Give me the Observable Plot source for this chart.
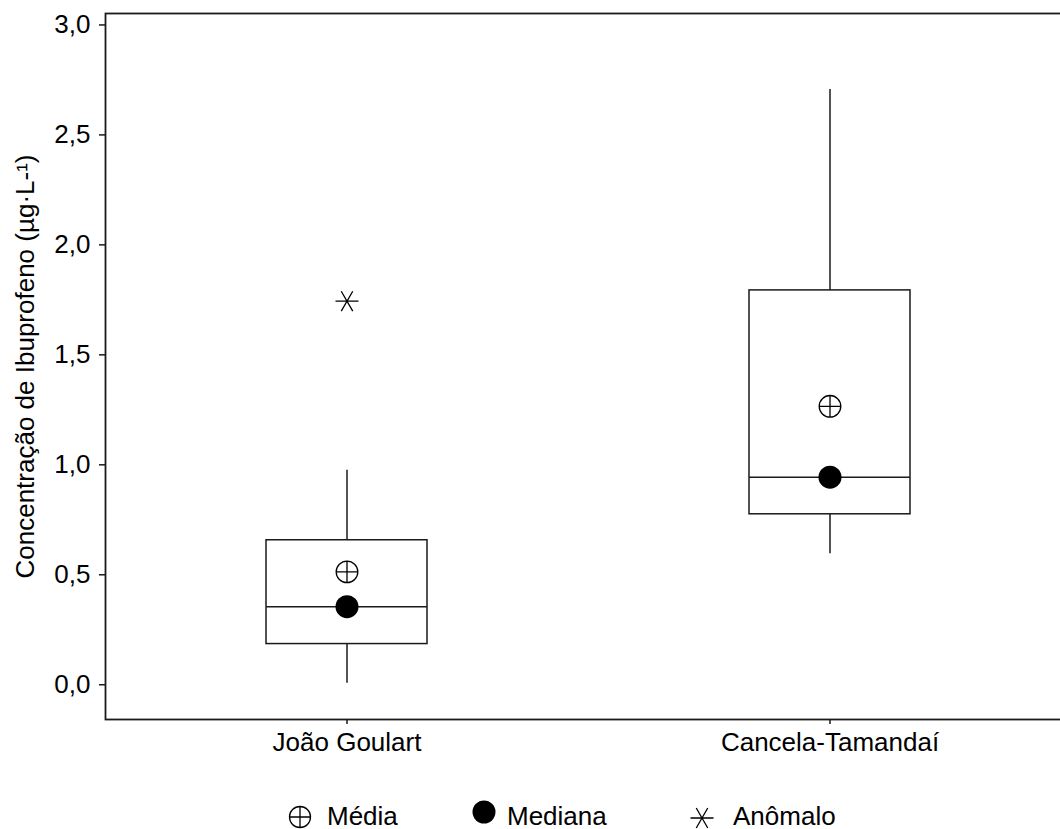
<!DOCTYPE html>
<html lang="pt">
<head>
<meta charset="utf-8">
<script src="https://cdn.jsdelivr.net/npm/d3@7"></script>
<script src="https://cdn.jsdelivr.net/npm/@observablehq/plot@0.6"></script>
<style>
  body { margin: 0; background: #fff; font-family: "Liberation Sans", Arial, sans-serif; overflow: hidden; }
  #legend { position: relative; width: 1060px; height: 39px; }
  #legend .item { position: absolute; top: 13px; display: flex; align-items: center; font-size: 26px; line-height: 26px; color: #000; }
  #legend svg { display: block; }
</style>
</head>
<body>
<div id="chart"></div>
<div id="legend"></div>
<script>
// Sampling sites
const sites = ["João Goulart", "Cancela-Tamandaí"];

// Box-plot statistics per site (µg·L-¹)
const whiskerLow  = [0.007, 0.596];
const q1          = [0.185, 0.775];
const median      = [0.355, 0.944];
const q3          = [0.657, 1.793];
const whiskerHigh = [0.975, 2.707];
const mean        = [0.513, 1.266];

// Outliers
const outlierSites  = ["João Goulart"];
const outlierValues = [1.744];

// Axis ticks and legend labels
const yTicks = [0, 0.5, 1, 1.5, 2, 2.5, 3];
const legendLabels = ["Média", "Mediana", "Anômalo"];

const rows = sites.map((site, i) => ({
  site,
  whiskerLow: whiskerLow[i],
  q1: q1[i],
  median: median[i],
  q3: q3[i],
  whiskerHigh: whiskerHigh[i],
  mean: mean[i]
}));
const outliers = outlierSites.map((site, i) => ({site, value: outlierValues[i]}));

// Circle crossed by a plus sign (mean marker)
const circlePlus = {
  draw(context, size) {
    const r = Math.sqrt(size / Math.PI);
    context.moveTo(r, 0);
    context.arc(0, 0, r, 0, 2 * Math.PI);
    context.moveTo(-r, 0); context.lineTo(r, 0);
    context.moveTo(0, -r); context.lineTo(0, r);
  }
};

// Six-armed asterisk with a horizontal bar (outlier marker)
const asterisk6 = {
  draw(context, size) {
    const r = Math.sqrt(size / Math.PI);
    const c = r * 0.5, s = r * Math.sqrt(3) / 2;
    context.moveTo(-r, 0); context.lineTo(r, 0);
    context.moveTo(-c, -s); context.lineTo(c, s);
    context.moveTo(-c, s); context.lineTo(c, -s);
  }
};

const commaFormat = d => d.toFixed(1).replace(".", ",");
const ink = "#1a1a1a";

const chart = Plot.plot({
  width: 1060,
  height: 790,
  marginLeft: 105,
  marginRight: -12,
  marginTop: 13,
  marginBottom: 71,
  style: {
    fontFamily: '"Liberation Sans", Arial, sans-serif',
    fontSize: "26px",
    color: "#000",
    background: "#fff"
  },
  x: {type: "band", domain: sites, paddingInner: 2 / 3, paddingOuter: 1 / 3},
  y: {domain: [-0.158, 3.052]},
  marks: [
    Plot.frame({stroke: ink, strokeWidth: 1.8}),
    Plot.axisY({
      ticks: yTicks,
      tickFormat: commaFormat,
      tickSize: 6,
      tickPadding: 9,
      strokeWidth: 1.5,
      stroke: ink,
      label: "Concentração de Ibuprofeno (µg·L-¹)",
      labelAnchor: "center",
      labelOffset: 90,
      labelArrow: "none"
    }),
    Plot.axisX({tickSize: 5, tickPadding: 8, strokeWidth: 1.5, stroke: ink, label: null}),
    // whiskers
    Plot.ruleX(rows, {x: "site", y1: "whiskerLow", y2: "q1", stroke: ink, strokeWidth: 1.5}),
    Plot.ruleX(rows, {x: "site", y1: "q3", y2: "whiskerHigh", stroke: ink, strokeWidth: 1.5}),
    // interquartile box
    Plot.barY(rows, {x: "site", y1: "q1", y2: "q3", fill: "none", stroke: ink, strokeWidth: 1.5}),
    // median line
    Plot.tickY(rows, {x: "site", y: "median", stroke: ink, strokeWidth: 1.5}),
    // mean, median and outlier markers
    Plot.dot(rows, {x: "site", y: "mean", symbol: circlePlus, r: 10.8, fill: "#fff", stroke: "#000", strokeWidth: 1.3}),
    Plot.dot(rows, {x: "site", y: "median", symbol: "circle", r: 11.5, fill: "#000", stroke: "none"}),
    Plot.dot(outliers, {x: "site", y: "value", symbol: asterisk6, r: 11.5, fill: "none", stroke: "#000", strokeWidth: 1.3})
  ]
});
chart.style.overflow = "hidden";
document.getElementById("chart").append(chart);

// Legend below the plot
const legendSymbols = [
  {symbol: circlePlus, r: 10.5, fill: "#fff", stroke: "#000", left: 288, gap: 15, dy: 1},
  {symbol: d3.symbolCircle, r: 11.5, fill: "#000", stroke: "none", left: 472, gap: 11, dy: -4},
  {symbol: asterisk6, r: 11.5, fill: "none", stroke: "#000", left: 690, gap: 19, dy: 2}
];
const legend = d3.select("#legend");
legendLabels.forEach((label, i) => {
  const s = legendSymbols[i];
  const item = legend.append("div").attr("class", "item").style("left", s.left + "px");
  const svg = item.append("svg").attr("width", 24).attr("height", 24)
    .style("transform", `translateY(${s.dy}px)`);
  svg.append("path")
    .attr("transform", "translate(12,12)")
    .attr("d", d3.symbol(s.symbol, Math.PI * s.r * s.r)())
    .attr("fill", s.fill)
    .attr("stroke", s.stroke)
    .attr("stroke-width", 1.3);
  item.append("span").style("margin-left", s.gap + "px").text(label);
});
</script>
</body>
</html>
